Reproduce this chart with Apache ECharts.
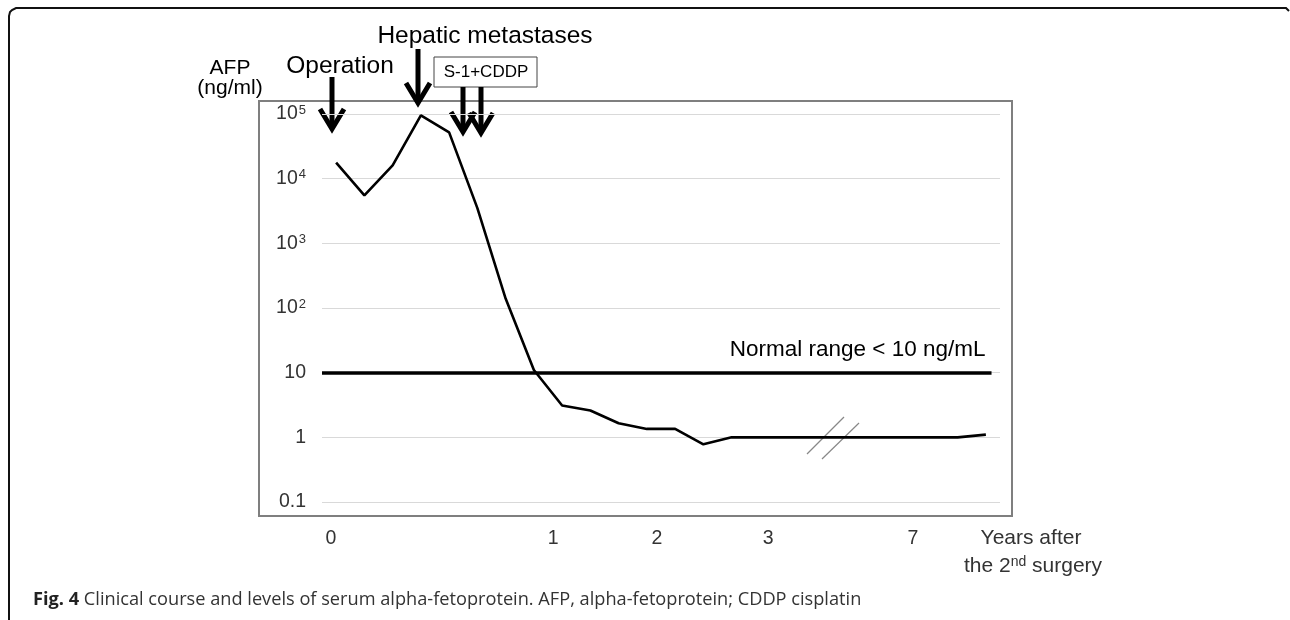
<!DOCTYPE html>
<html>
<head>
<meta charset="utf-8">
<style>
  html, body { margin: 0; padding: 0; background: #fff; }
  #chart { width: 1290px; height: 620px; }
</style>
<script src="https://cdn.jsdelivr.net/npm/echarts@6/dist/echarts.min.js"></script>
</head>
<body>
<div id="chart"></div>
<script>
// AFP (ng/ml) per visit
const afpValues = [
  17700, 5500, 16000, 95000, 52000, 3500, 140, 11, 3.1, 2.6, 1.65, 1.35,
  1.35, 0.78, 1, 1, 1, 1, 1, 1, 1, 1, 1, 1.1
];
// x tick labels (years) and where they sit along the visit index
const xTickPos = [-0.18, 7.68, 11.36, 15.29, 20.42];
const xTickLabels = ['0', '1', '2', '3', '7'];
// y ticks on the log axis
const yTickValues = [0.1, 1, 10, 100, 1000, 10000, 100000];
const yTickLabels = ['0.1', '1', '10', '10{s|2}', '10{s|3}', '10{s|4}', '10{s|5}'];
const normalLimit = 10;

const font = '"Liberation Sans", Arial, sans-serif';
const chart = echarts.init(document.getElementById('chart'));

const seriesData = afpValues.map((v, i) => [i, v]);

const arrow = (x, y1, y2) => ({
  type: 'group',
  children: [
    {
      type: 'line',
      shape: { x1: x, y1: y1, x2: x, y2: y2 - 3 },
      style: { stroke: '#000', lineWidth: 5 }
    },
    {
      type: 'polyline',
      shape: { points: [[x - 12, y2 - 20], [x, y2], [x + 12, y2 - 20]] },
      style: { stroke: '#000', lineWidth: 5, fill: null, lineJoin: 'miter' }
    }
  ]
});

const text = (x, y, str, size, extra) => ({
  type: 'text',
  x: x,
  y: y,
  style: Object.assign({
    text: str,
    fontSize: size,
    fontFamily: font,
    fill: '#000',
    align: 'center',
    verticalAlign: 'middle'
  }, extra || {})
});

chart.setOption({
  animation: false,
  grid: { left: 322, right: 290, top: 114, bottom: 118 },
  xAxis: {
    type: 'value',
    min: -0.5,
    max: 23.5,
    splitLine: { show: false },
    axisLine: { show: false },
    axisTick: { show: false },
    axisLabel: {
      customValues: xTickPos,
      margin: 27,
      fontSize: 19.5,
      fontFamily: font,
      color: '#333',
      formatter: v => {
        const i = xTickPos.findIndex(p => Math.abs(p - v) < 1e-6);
        return i < 0 ? '' : xTickLabels[i];
      }
    }
  },
  yAxis: {
    type: 'log',
    logBase: 10,
    min: 0.1,
    max: 100000,
    interval: 1,
    axisLine: { show: false },
    axisTick: { show: false },
    splitLine: { lineStyle: { color: '#d9d9d9', width: 1.2 } },
    axisLabel: {
      margin: 16,
      fontSize: 19.5,
      fontFamily: font,
      color: '#333',
      formatter: v => {
        const i = yTickValues.findIndex(t => Math.abs(Math.log10(t) - Math.log10(v)) < 1e-6);
        return i < 0 ? '' : yTickLabels[i];
      },
      rich: {
        s: { fontSize: 13, fontFamily: font, color: '#333', verticalAlign: 'top', padding: [0, 0, 8, 1] }
      }
    }
  },
  series: [
    {
      type: 'line',
      data: seriesData,
      symbol: 'none',
      lineStyle: { color: '#000', width: 2.6 },
      silent: true,
      markLine: {
        silent: true,
        symbol: ['none', 'none'],
        lineStyle: { color: '#000', width: 3.5, type: 'solid' },
        label: {
          show: true,
          position: 'insideEndTop',
          formatter: 'Normal range < 10 ng/mL',
          fontSize: 22.5,
          fontFamily: font,
          color: '#000',
          distance: [6, 11]
        },
        data: [[{ coord: [-0.5, normalLimit] }, { coord: [23.2, normalLimit] }]]
      }
    }
  ],
  graphic: [
    // outer figure frame
    {
      type: 'polyline',
      shape: { points: [[9, 620], [9, 16], [10, 12], [12, 10], [16, 8], [1286, 8], [1289, 11]] },
      style: { stroke: '#111', lineWidth: 2, fill: null }
    },
    // plot box
    {
      type: 'rect',
      z: -1,
      shape: { x: 259, y: 101, width: 753, height: 415 },
      style: { stroke: '#7f7f7f', lineWidth: 2, fill: null }
    },
    // axis break
    {
      type: 'line',
      shape: { x1: 807, y1: 454, x2: 844, y2: 417 },
      style: { stroke: '#888', lineWidth: 1.2 }
    },
    {
      type: 'line',
      shape: { x1: 822, y1: 459, x2: 859, y2: 423 },
      style: { stroke: '#888', lineWidth: 1.2 }
    },
    text(230, 68, 'AFP', 21),
    text(230, 88, '(ng/ml)', 21),
    text(340, 66, 'Operation', 24.5),
    text(485, 36, 'Hepatic metastases', 24.5),
    {
      type: 'rect',
      shape: { x: 434, y: 57, width: 103, height: 30 },
      style: { stroke: '#444', lineWidth: 1, fill: '#fff' }
    },
    text(486, 72, 'S-1+CDDP', 17),
    arrow(332, 77, 129),
    arrow(418, 49, 103),
    arrow(463, 87, 132),
    arrow(481, 87, 133),
    text(1031, 538, 'Years after', 21, { fill: '#333' }),
    text(1033, 566, 'the 2{s|nd} surgery', 21, {
      fill: '#333',
      rich: { s: { fontSize: 14, fontFamily: font, fill: '#333', verticalAlign: 'top', padding: [0, 0, 8, 0] } }
    }),
    {
      type: 'text',
      x: 33,
      y: 600,
      style: {
        text: '{b|Fig. 4} Clinical course and levels of serum alpha-fetoprotein. AFP, alpha-fetoprotein; CDDP cisplatin',
        fontSize: 18.2,
        fontFamily: '"Open Sans", sans-serif',
        fill: '#333',
        verticalAlign: 'middle',
        rich: {
          b: { fontSize: 18.2, fontWeight: 'bold', fontFamily: '"Open Sans", sans-serif', fill: '#222' }
        }
      }
    }
  ]
});
</script>
</body>
</html>
